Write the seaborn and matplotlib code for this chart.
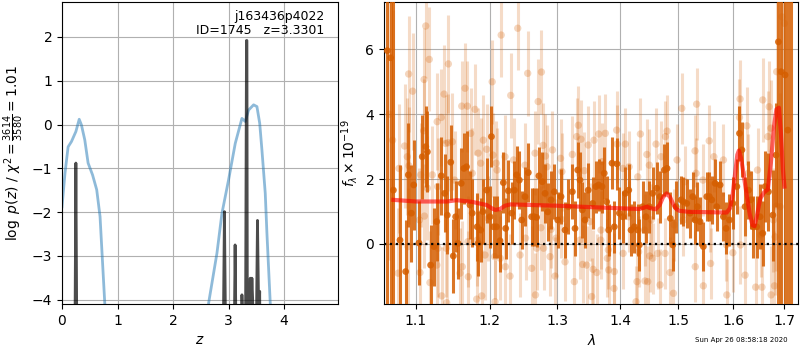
import numpy as np
import matplotlib
matplotlib.use("Agg")
import matplotlib.pyplot as plt
from matplotlib.ticker import FormatStrFormatter, NullLocator
import seaborn as sns

G141_COLOR = "#d55e00"

# ---- left panel: redshift fit ----
pdf_z = [0.00, 0.22, 0.25, 0.28, 2.88, 2.925, 2.97, 3.08, 3.117, 3.16, 3.22, 3.24,
         3.27, 3.305, 3.322, 3.33, 3.338, 3.36, 3.39, 3.405, 3.42, 3.45, 3.50, 3.52,
         3.545, 3.56, 3.58, 4.97]
pdf_logp = [-8, -8, -0.88, -8, -8, -1.99, -8, -8, -2.75, -8, -4.6, -3.89,
            -4.6, -4.6, 1.92, 1.92, -4.6, -4.6, -3.51, -4.2, -3.51, -4.6, -4.6, -2.19,
            -4.6, -3.81, -8, -8]

chi_z = [0.0, 0.054, 0.11, 0.17, 0.25, 0.31, 0.35, 0.41, 0.47, 0.55, 0.625, 0.685,
         0.77, 0.85, 2.55, 2.64, 2.79, 2.88, 3.00, 3.12, 3.24, 3.30, 3.36, 3.45,
         3.51, 3.56, 3.60, 3.66, 3.69, 3.75, 3.85]
chi_val = [-1.88, -1.11, -0.51, -0.39, -0.16, 0.12, -0.01, -0.35, -0.88, -1.15, -1.49, -2.10,
           -4.08, -6.0, -6.0, -4.08, -2.94, -2.03, -1.26, -0.43, 0.14, 0.07, 0.33, 0.45,
           0.41, 0.03, -0.58, -1.57, -2.48, -4.08, -6.0]

# ---- right panel: G141 spectrum (x 1e-19) ----
dark_wave = [1.0634, 1.0675, 1.0710, 1.0794, 1.0867, 1.0901, 1.0940, 1.0970, 1.1039, 1.1082,
             1.1128, 1.1149, 1.1192, 1.1237, 1.1273, 1.1334, 1.1380, 1.1414, 1.1461, 1.1496,
             1.1528, 1.1559, 1.1604, 1.1641, 1.1677, 1.1725, 1.1756, 1.1825, 1.1839, 1.1874,
             1.1905, 1.1958, 1.2006, 1.2026, 1.2057, 1.2098, 1.2148, 1.2196, 1.2230, 1.2268,
             1.2318, 1.2356, 1.2390, 1.2429, 1.2464, 1.2512, 1.2561, 1.2611, 1.2649, 1.2685,
             1.2719, 1.2769, 1.2812, 1.2853, 1.2903, 1.2953, 1.3005, 1.3056, 1.3118, 1.3170,
             1.3232, 1.3274, 1.3316, 1.3352, 1.3388, 1.3431, 1.3483, 1.3554, 1.3606, 1.3649,
             1.3704, 1.3740, 1.3780, 1.3813, 1.3867, 1.3905, 1.3949, 1.3988, 1.4044, 1.4087,
             1.4144, 1.4182, 1.4238, 1.4295, 1.4322, 1.4380, 1.4435, 1.4492, 1.4550, 1.4619,
             1.4677, 1.4752, 1.4799, 1.4856, 1.4898, 1.4957, 1.5046, 1.5087, 1.5147, 1.5206,
             1.5255, 1.5296, 1.5338, 1.5387, 1.5447, 1.5510, 1.5557, 1.5601, 1.5663, 1.5694,
             1.5756, 1.5818, 1.5868, 1.5931, 1.5995, 1.6071, 1.6121, 1.6167, 1.6228, 1.6292,
             1.6337, 1.6387, 1.6452, 1.6517, 1.6570, 1.6617, 1.6682, 1.6769, 1.6834, 1.6880,
             1.6934, 1.7013, 1.7067, 1.7123]
dark_flux = [5.96, 5.74, 1.66, 0.12, -0.85, 2.13, 0.95, 1.82, 0.03, 2.69,
             3.00, 2.84, -0.65, -0.08, 0.69, 2.10, 1.56, 0.89, 2.52, -0.37,
             0.84, 0.02, 1.87, 2.33, 2.38, 1.20, 0.95, 0.53, 0.02, 0.43,
             1.00, 1.66, 0.84, 3.31, 0.53, 0.53, 0.10, 1.89, 0.48, 1.64,
             0.95, 1.66, 2.13, 1.97, 0.74, 1.46, 2.20, 0.84, 0.84, 0.82,
             2.10, 1.92, 1.56, 0.99, 1.36, 1.61, 0.74, 1.46, 0.43, 1.15,
             1.61, 0.48, 2.28, 1.97, 1.05, 0.74, 1.66, 1.25, 1.77, 1.82,
             1.77, 2.18, 1.30, 0.43, 2.49, 0.53, 2.47, 0.95, 0.84, 1.56,
             1.66, 0.43, 0.53, 0.43, -0.03, 1.15, 0.84, 1.15, 1.56, 1.72,
             1.46, 2.28, 2.33, 0.79, -0.03, 1.15, 1.36, 1.30, 1.25, 0.95,
             1.46, 0.74, 1.15, 0.69, -0.08, 1.46, 1.46, 1.36, 1.87, 1.15,
             1.82, 0.84, 0.48, 0.74, 1.25, 1.77, 3.41, 2.90, 1.15, 1.66,
             1.36, 0.53, 0.53, 0.84, 0.33, 1.77, 1.61, 0.89, 2.74, 6.23,
             5.31, 5.21, 3.51, 9.00]
dark_err = [9.0, 9.0, 7.0, 2.3, 1.6, 1.6, 1.5, 1.4, 1.3, 1.3,
            1.25, 1.25, 1.25, 1.2, 1.2, 1.2, 1.2, 1.2, 1.15, 1.15,
            1.1, 1.1, 1.1, 1.1, 1.1, 1.05, 1.05, 1.05, 1.0, 1.0,
            1.0, 1.0, 0.95, 0.95, 0.95, 0.95, 0.95, 0.95, 0.95, 0.95,
            0.95, 0.9, 0.9, 0.9, 0.9, 0.9, 0.9, 0.9, 0.9, 0.9,
            0.9, 0.9, 0.9, 0.9, 0.9, 0.85, 0.85, 0.85, 0.85, 0.85,
            0.85, 0.85, 0.85, 0.85, 0.85, 0.85, 0.85, 0.8, 0.8, 0.8,
            0.8, 0.8, 0.8, 0.8, 0.8, 0.8, 0.8, 0.8, 0.8, 0.8,
            0.8, 0.8, 0.8, 0.8, 0.8, 0.8, 0.8, 0.8, 0.8, 0.8,
            0.8, 0.8, 0.8, 0.8, 0.8, 0.8, 0.75, 0.75, 0.75, 0.75,
            0.75, 0.75, 0.75, 0.75, 0.75, 0.75, 0.75, 0.75, 0.75, 0.75,
            0.75, 0.75, 0.8, 0.8, 0.8, 0.85, 0.85, 0.85, 0.9, 0.9,
            0.9, 0.95, 0.95, 1.0, 1.0, 1.1, 1.2, 1.4, 1.6, 9.0,
            9.0, 9.0, 9.0, 12.0]

light_wave = [1.0660, 1.0700, 1.0770, 1.0781, 1.0852, 1.0888, 1.0897, 1.0905, 1.0910, 1.0956,
              1.1045, 1.1052, 1.1060, 1.1100, 1.1106, 1.1110, 1.1128, 1.1149, 1.1174, 1.1183,
              1.1213, 1.1275, 1.1279, 1.1285, 1.1290, 1.1334, 1.1339, 1.1371, 1.1393, 1.1400,
              1.1406, 1.1424, 1.1429, 1.1483, 1.1514, 1.1587, 1.1611, 1.1619, 1.1656, 1.1688,
              1.1695, 1.1701, 1.1734, 1.1756, 1.1794, 1.1818, 1.1825, 1.1839, 1.1874, 1.1888,
              1.1911, 1.1935, 1.1958, 1.1981, 1.2036, 1.2047, 1.2070, 1.2077, 1.2093, 1.2106,
              1.2152, 1.2165, 1.2220, 1.2226, 1.2293, 1.2303, 1.2344, 1.2405, 1.2439, 1.2512,
              1.2520, 1.2552, 1.2611, 1.2661, 1.2668, 1.2685, 1.2708, 1.2750, 1.2757, 1.2782,
              1.2790, 1.2818, 1.2843, 1.2888, 1.2903, 1.2925, 1.2964, 1.2980, 1.3049, 1.3060,
              1.3070, 1.3118, 1.3232, 1.3263, 1.3300, 1.3326, 1.3352, 1.3368, 1.3394, 1.3420,
              1.3458, 1.3483, 1.3511, 1.3537, 1.3560, 1.3575, 1.3619, 1.3650, 1.3684, 1.3688,
              1.3704, 1.3758, 1.3790, 1.3807, 1.3813, 1.3900, 1.3905, 1.3943, 1.3950, 1.4044,
              1.4050, 1.4087, 1.4144, 1.4150, 1.4266, 1.4282, 1.4295, 1.4310, 1.4340, 1.4410,
              1.4418, 1.4450, 1.4465, 1.4492, 1.4498, 1.4525, 1.4550, 1.4607, 1.4633, 1.4677,
              1.4695, 1.4764, 1.4770, 1.4799, 1.4851, 1.4910, 1.4922, 1.4975, 1.5058, 1.5087,
              1.5117, 1.5296, 1.5300, 1.5315, 1.5325, 1.5440, 1.5447, 1.5555, 1.5571, 1.5580,
              1.5640, 1.5818, 1.5875, 1.5881, 1.5995, 1.6121, 1.6132, 1.6140, 1.6228, 1.6262,
              1.6290, 1.6432, 1.6468, 1.6536, 1.6555, 1.6570, 1.6670, 1.6696, 1.6730, 1.6735,
              1.6780, 1.6800, 1.6814, 1.6840, 1.6845, 1.6914, 1.6950, 1.7000]
light_flux = [4.00, 3.20, -0.90, 2.33, 3.02, 2.69, -0.08, 5.24, 2.41, 4.71,
              0.74, -0.88, 2.13, 3.49, 5.07, 0.86, 6.72, 1.72, 5.69, -1.19,
              2.13, -0.65, 3.77, 1.77, -0.13, 3.90, -1.60, 4.62, 3.10, -0.13,
              -1.81, 3.12, 5.55, 3.15, 1.97, -0.90, 4.25, -0.70, 4.80, 4.25,
              0.07, -1.01, 3.41, 2.18, 4.15, -1.70, 0.12, 2.80, 2.49, -1.60,
              3.20, -0.34, 2.92, 0.79, 5.00, 2.74, -0.39, -1.78, 2.49, 2.28,
              -0.44, 6.44, 2.69, -0.70, -0.99, 4.58, 2.59, 6.65, -0.34, 2.43,
              0.18, 5.26, -0.75, 2.80, -1.57, -0.13, 4.39, 0.50, 5.30, 3.04,
              -0.13, 2.71, 2.38, -0.39, 0.45, 2.90, -0.99, 0.18, 2.64, 0.76,
              2.23, -0.55, 2.76, -1.16, 3.31, 3.66, 0.12, 3.23, -0.63, 2.26,
              -0.65, 3.05, 0.69, -1.62, -0.78, 3.20, -0.88, 3.39, 0.12, 0.43,
              2.54, 3.41, -0.44, -0.18, -0.80, -1.37, -0.85, 3.51, 3.08, 2.33,
              -0.29, 3.08, 0.84, 2.38, -1.78, -1.16, 2.07, -0.24, 3.39, 0.43,
              -1.14, 2.76, -1.16, 2.43, -0.37, 0.74, -0.44, 3.08, -0.29, -1.26,
              2.69, -0.29, 3.31, 3.48, -0.88, -1.52, 0.59, 2.59, 4.18, 0.74,
              1.92, 2.87, -0.70, 2.18, 4.31, 1.97, -1.29, 3.18, 0.84, -0.60,
              2.69, 2.59, -0.03, -1.57, -0.27, 3.90, 4.47, -0.03, -0.96, 3.64,
              2.18, -1.33, 2.28, 0.28, -1.33, 4.44, 3.31, 4.23, 3.57, -1.57,
              0.74, -1.29, 0.22, 1.17, 5.31, 1.15, 7.00, 6.80]
light_err = [4.5, 4.0, 2.0, 2.0, 1.9, 1.8, 1.8, 1.8, 1.8, 1.8,
             1.6, 1.6, 1.6, 1.6, 1.6, 1.6, 1.6, 1.6, 1.6, 1.6,
             1.5, 1.5, 1.5, 1.5, 1.5, 1.5, 1.5, 1.5, 1.5, 1.5,
             1.5, 1.5, 1.5, 1.5, 1.5, 1.4, 1.4, 1.4, 1.4, 1.4,
             1.4, 1.4, 1.4, 1.4, 1.4, 1.4, 1.4, 1.4, 1.4, 1.4,
             1.4, 1.4, 1.4, 1.3, 1.3, 1.3, 1.3, 1.3, 1.3, 1.3,
             1.3, 1.3, 1.3, 1.3, 1.3, 1.3, 1.3, 1.3, 1.3, 1.3,
             1.3, 1.3, 1.3, 1.3, 1.3, 1.3, 1.3, 1.3, 1.3, 1.3,
             1.3, 1.3, 1.3, 1.2, 1.2, 1.2, 1.2, 1.2, 1.2, 1.2,
             1.2, 1.2, 1.2, 1.2, 1.2, 1.2, 1.2, 1.2, 1.2, 1.2,
             1.2, 1.2, 1.2, 1.2, 1.2, 1.2, 1.2, 1.2, 1.2, 1.2,
             1.2, 1.2, 1.2, 1.2, 1.2, 1.2, 1.2, 1.2, 1.2, 1.1,
             1.1, 1.1, 1.1, 1.1, 1.1, 1.1, 1.1, 1.1, 1.1, 1.1,
             1.1, 1.1, 1.1, 1.1, 1.1, 1.1, 1.1, 1.1, 1.1, 1.1,
             1.1, 1.1, 1.1, 1.1, 1.1, 1.1, 1.1, 1.1, 1.1, 1.1,
             1.1, 1.1, 1.1, 1.1, 1.1, 1.1, 1.1, 1.1, 1.1, 1.1,
             1.1, 1.1, 1.1, 1.1, 1.2, 1.2, 1.2, 1.2, 1.2, 1.2,
             1.2, 1.3, 1.3, 1.3, 1.3, 1.3, 1.4, 1.4, 1.5, 1.5,
             1.6, 1.7, 1.8, 2.0, 2.5, 3.5, 5.0, 5.0]

model_wave = [1.071, 1.100, 1.141, 1.154, 1.175, 1.196, 1.203, 1.208, 1.215, 1.222,
              1.230, 1.300, 1.335, 1.400, 1.433, 1.440, 1.445, 1.452, 1.460, 1.467,
              1.473, 1.479, 1.485, 1.490, 1.496, 1.502, 1.520, 1.588, 1.594, 1.599,
              1.604, 1.608, 1.611, 1.615, 1.620, 1.626, 1.632, 1.637, 1.641, 1.646,
              1.652, 1.660, 1.667, 1.673, 1.679, 1.684, 1.689, 1.693, 1.697, 1.700]
model_flux = [1.36, 1.31, 1.31, 1.35, 1.30, 1.20, 1.10, 1.05, 1.08, 1.18,
              1.22, 1.18, 1.15, 1.10, 1.08, 1.12, 1.15, 1.10, 1.07, 1.20,
              1.45, 1.56, 1.45, 1.25, 1.08, 1.02, 0.99, 0.97, 1.10, 1.50,
              2.20, 2.75, 2.88, 2.65, 2.15, 1.50, 0.90, 0.58, 0.55, 0.90,
              1.40, 1.60, 1.68, 2.50, 3.60, 4.15, 4.20, 3.40, 2.30, 1.77]

wave_ticks = [1.1, 1.2, 1.3, 1.4, 1.5, 1.6, 1.7]
label_text = "j163436p4022\nID=1745   z=3.3301"
timestamp = "Sun Apr 26 08:58:18 2020"

plt.rcParams["font.size"] = 10

fig = plt.figure(figsize=(8, 3.5), dpi=100)
ax1 = fig.add_axes([0.0775, 0.1314, 0.345, 0.863])
ax2 = fig.add_axes([0.48, 0.1314, 0.518, 0.863])

# left: chi2 / p(z)
sns.lineplot(x=chi_z, y=chi_val, ax=ax1, color="#1f77b4", alpha=0.5, lw=2,
             sort=False, estimator=None)
sns.lineplot(x=pdf_z, y=pdf_logp, ax=ax1, color="k", alpha=0.7, lw=2,
             sort=False, estimator=None)
ax1.set_xlim(0, 4.97)
ax1.set_ylim(-4.1, 2.8)
ax1.set_xticks([0, 1, 2, 3, 4])
ax1.set_yticks([-4, -3, -2, -1, 0, 1, 2])
ax1.grid(True)
ax1.set_axisbelow(True)
ax1.set_xlabel(r"$z$")
ax1.set_ylabel(r"$\log\ p(z)$ / $\chi^2=\frac{3614}{3580}=1.01$")
ax1.text(0.95, 0.975, label_text, transform=ax1.transAxes, ha="right", va="top",
         fontsize=9, linespacing=1.15)

# right: spectrum
ax2.errorbar(light_wave, light_flux, light_err, fmt="none", ecolor=G141_COLOR,
             alpha=0.22, elinewidth=2.2, zorder=1)
sns.scatterplot(x=light_wave, y=light_flux, ax=ax2, color=G141_COLOR, alpha=0.25,
                s=28, edgecolor="none", zorder=2)
ax2.errorbar(dark_wave, dark_flux, dark_err, fmt="none", ecolor=G141_COLOR,
             alpha=0.85, elinewidth=2.2, zorder=3)
sns.scatterplot(x=dark_wave, y=dark_flux, ax=ax2, color=G141_COLOR, alpha=0.85,
                s=24, edgecolor="none", zorder=4)
sns.lineplot(x=model_wave, y=model_flux, ax=ax2, color="r", alpha=0.6, lw=3,
             sort=False, estimator=None, zorder=5)
ax2.axhline(0, color="k", linestyle=":", lw=1.6, zorder=6)

ax2.set_xscale("log")
ax2.set_xlim(1.0592, 1.7283)
ax2.set_xticks(wave_ticks)
ax2.xaxis.set_major_formatter(FormatStrFormatter("%.1f"))
ax2.xaxis.set_minor_locator(NullLocator())
ax2.set_ylim(-1.85, 7.46)
ax2.set_yticks([0, 2, 4, 6])
ax2.grid(True)
ax2.set_axisbelow(True)
ax2.set_xlabel(r"$\lambda$")
ax2.set_ylabel(r"$f_\lambda \times 10^{-19}$")

fig.text(0.985, 0.02, timestamp, ha="right", va="bottom", fontsize=5)

fig.savefig("out.png", dpi=100)
